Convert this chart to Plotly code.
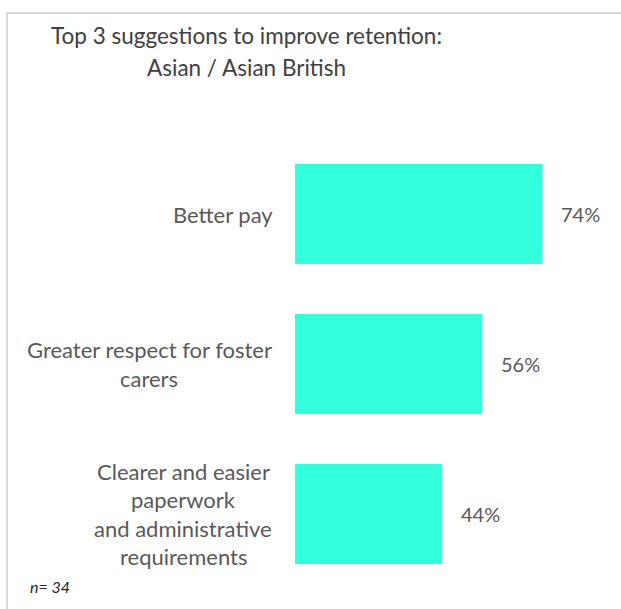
import plotly.graph_objects as go

# Survey results: top suggestions to improve retention
categories = [
    "Better pay",
    "Greater respect for foster<br>carers",
    "Clearer and easier<br>paperwork<br>and administrative<br>requirements",
]
values = [74, 56, 44]
title_lines = ["Top 3 suggestions to improve retention:", "Asian / Asian British"]
note = "n= 34"

BAR_COLOR = "#33FFDD"
TEXT_COLOR = "#595959"
TITLE_COLOR = "#404040"
FONT = "Lato, 'Open Sans', sans-serif"

W, H = 621, 609
L, R, T, B = 295, 25, 139, 20
PW, PH = W - L - R, H - T - B

def px_x(px):
    return (px - L) / PW

def px_y(py):
    return (H - B - py) / PH

fig = go.Figure(
    go.Bar(
        x=values,
        y=categories,
        orientation="h",
        marker=dict(color=BAR_COLOR, line=dict(width=0)),
        hoverinfo="skip",
    )
)

annotations = []

# value labels just past the bar ends
for cat, v in zip(categories, values):
    annotations.append(dict(
        x=v, y=cat, xref="x", yref="y", text=f"{v}%",
        showarrow=False, xanchor="left", xshift=17,
        font=dict(family=FONT, size=20, color=TEXT_COLOR),
    ))

# category labels, one annotation per line so the line spacing can be set
block_centers = [223, 149, 183]
line_gap = 28.5
for cat, cx in zip(categories, block_centers):
    lines = cat.split("<br>")
    n = len(lines)
    for i, ln in enumerate(lines):
        offset = (i - (n - 1) / 2) * line_gap
        annotations.append(dict(
            x=px_x(cx), y=cat, xref="paper", yref="y", text=ln,
            showarrow=False, xanchor="center", yanchor="middle",
            yshift=-offset,
            font=dict(family=FONT, size=22, color=TEXT_COLOR),
        ))

# title
for i, ln in enumerate(title_lines):
    annotations.append(dict(
        x=px_x(246), y=px_y(35 + i * 33), xref="paper", yref="paper",
        text=ln, showarrow=False, xanchor="center", yanchor="middle",
        font=dict(family=FONT, size=22.5, color=TITLE_COLOR),
    ))

# sample size note
annotations.append(dict(
    x=px_x(28), y=px_y(586), xref="paper", yref="paper",
    text=f"<i>{note}</i>", showarrow=False, xanchor="left", yanchor="middle",
    font=dict(family=FONT, size=16, color="#262626"),
))

fig.update_layout(
    width=W, height=H,
    margin=dict(l=L, r=R, t=T, b=B),
    paper_bgcolor="white", plot_bgcolor="white",
    bargap=1 / 3,
    showlegend=False,
    xaxis=dict(range=[0, 90], visible=False, fixedrange=True),
    yaxis=dict(autorange="reversed", showticklabels=False, showgrid=False,
               zeroline=False, showline=False, ticks=""),
    annotations=annotations,
    shapes=[dict(
        type="rect", xref="paper", yref="paper",
        x0=px_x(7), x1=px_x(W + 10), y0=px_y(H + 10), y1=px_y(13),
        line=dict(color="#d9d9d9", width=2), fillcolor="rgba(0,0,0,0)",
        layer="below",
    )],
)

fig.write_html("out.html")
